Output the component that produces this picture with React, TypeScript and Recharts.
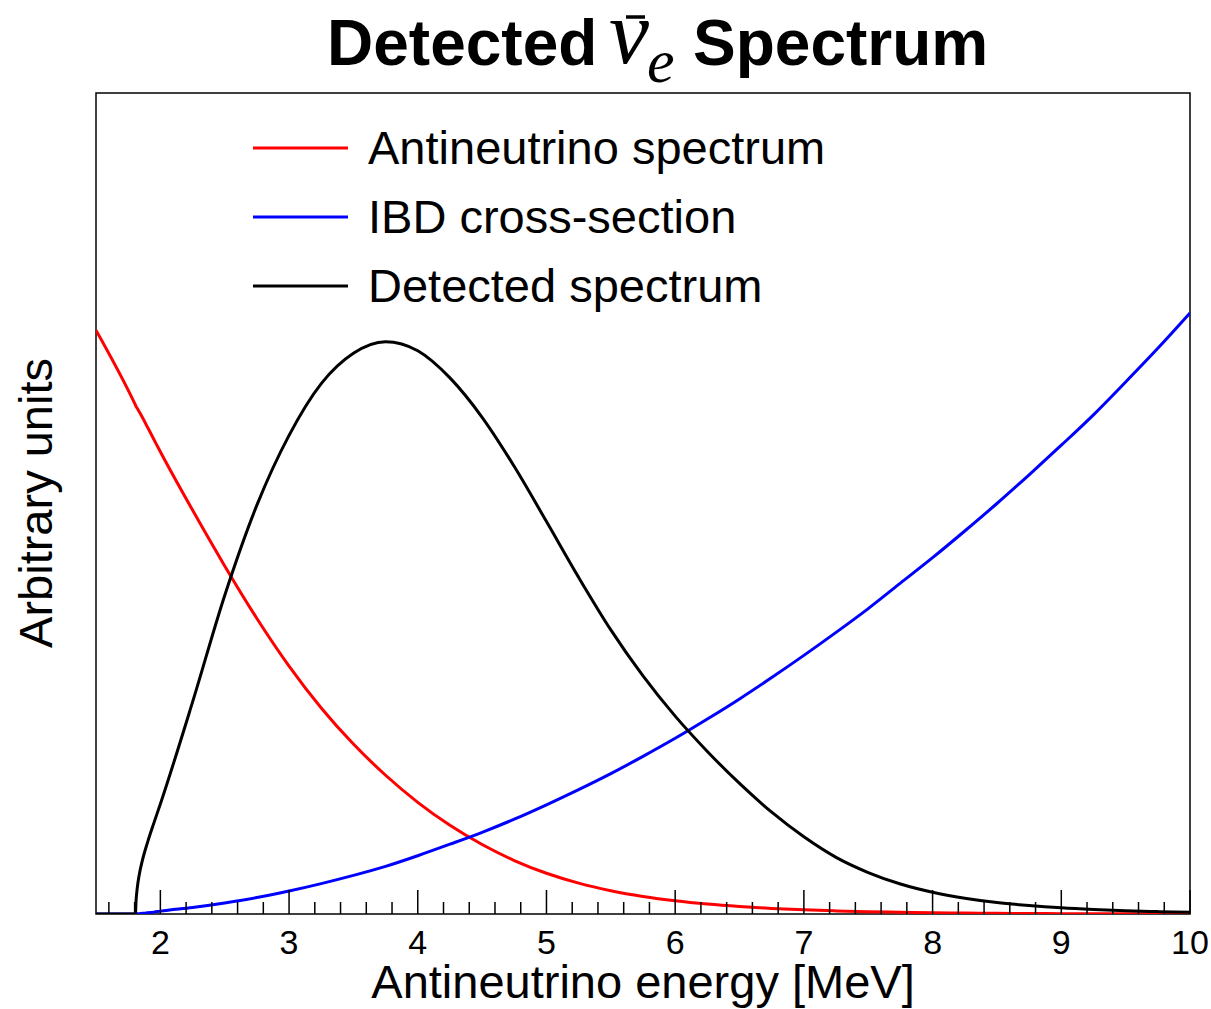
import React from 'react';
import { LineChart, Line, XAxis, YAxis, ReferenceArea } from 'recharts';

// energies in MeV, values in arbitrary units
const energies = [
  1.5, 1.806, 1.812, 1.82, 1.835, 1.86, 1.9, 1.95, 2.0, 2.25, 2.5, 2.75, 3.0, 3.25, 3.5,
  3.75, 4.0, 4.25, 4.5, 4.75, 5.0, 5.25, 5.5, 5.75, 6.0, 6.25, 6.5, 6.75, 7.0, 7.25, 7.5,
  7.75, 8.0, 8.25, 8.5, 8.75, 9.0, 9.25, 9.5, 9.75, 10.0,
];

const antineutrinoSpectrum = [
  0.711, 0.62, 0.618, 0.616, 0.612, 0.605, 0.593, 0.578, 0.563, 0.492, 0.424, 0.36, 0.302,
  0.251, 0.207, 0.169, 0.136, 0.108, 0.0846, 0.0651, 0.0496, 0.0376, 0.0284, 0.0214,
  0.0161, 0.0121, 0.0091, 0.0068, 0.0051, 0.0038, 0.0028, 0.0021, 0.0015, 0.0011, 0.0008,
  0.0006, 0.0004, 0.0003, 0.0002, 0.00015, 0.0001,
];

const ibdCrossSection = [
  0, 0, 0.0001, 0.0002, 0.0004, 0.0008, 0.0014, 0.0023, 0.0035, 0.008, 0.0135, 0.02, 0.028,
  0.037, 0.047, 0.058, 0.071, 0.085, 0.0995, 0.1155, 0.133, 0.1515, 0.171, 0.192, 0.214,
  0.2375, 0.262, 0.288, 0.315, 0.343, 0.372, 0.403, 0.434, 0.4665, 0.5, 0.535, 0.571, 0.608,
  0.648, 0.689, 0.732,
];

const detectedSpectrum = [
  0, 0, 0.018, 0.031, 0.047, 0.065, 0.087, 0.111, 0.134, 0.258, 0.388, 0.498, 0.583, 0.646,
  0.683, 0.697, 0.686, 0.653, 0.605, 0.545, 0.478, 0.41, 0.346, 0.29, 0.241, 0.198, 0.159,
  0.124, 0.094, 0.069, 0.0505, 0.0365, 0.0265, 0.0193, 0.014, 0.0103, 0.0075, 0.0055, 0.004,
  0.0029, 0.002,
];

const majorTicks = [2, 3, 4, 5, 6, 7, 8, 9, 10];
const minorTicks: number[] = [];
for (let i = 16; i < 100; i += 2) {
  if (i % 10 !== 0) minorTicks.push(i / 10);
}

const series = [
  { key: 'flux', name: 'Antineutrino spectrum', color: '#ff0000' },
  { key: 'xsec', name: 'IBD cross-section', color: '#0000ff' },
  { key: 'detected', name: 'Detected spectrum', color: '#000000' },
];

const rows = energies.map((e, i) => ({
  energy: e,
  flux: antineutrinoSpectrum[i],
  xsec: ibdCrossSection[i],
  detected: detectedSpectrum[i],
}));

const SANS = '"Liberation Sans", Arial, Helvetica, sans-serif';
const SERIF = '"Liberation Serif", "Times New Roman", serif';

const EnergyTick = (props: any) => {
  const { x, y, payload } = props;
  const major = majorTicks.includes(payload.value);
  return (
    <g>
      <line x1={x} x2={x} y1={y} y2={y - (major ? 24 : 12)} stroke="#000" strokeWidth={1.5} />
      {major && (
        <text x={x} y={y + 40} textAnchor="middle" fontSize={34} fontFamily={SANS} fill="#000">
          {payload.value}
        </text>
      )}
    </g>
  );
};

const App = () => {
  return (
    <div style={{ position: 'absolute', left: 0, top: 0, width: 1211, height: 1009, background: '#fff' }}>
      <LineChart
        width={1211}
        height={1009}
        data={rows}
        margin={{ top: 93, right: 21, bottom: 0, left: 96 }}
      >
        <XAxis
          dataKey="energy"
          type="number"
          domain={[1.5, 10]}
          ticks={[...minorTicks, ...majorTicks].sort((a, b) => a - b)}
          interval={0}
          height={95}
          tickSize={0}
          tickMargin={0}
          axisLine={false}
          tickLine={false}
          tick={<EnergyTick />}
          allowDataOverflow
        />
        <YAxis type="number" domain={[0, 1]} hide width={0} allowDataOverflow />
        {series.map((s) => (
          <Line
            key={s.key}
            type="monotone"
            dataKey={s.key}
            name={s.name}
            stroke={s.color}
            strokeWidth={3}
            dot={false}
            isAnimationActive={false}
          />
        ))}
        <ReferenceArea x1={1.5} x2={10} y1={0} y2={1} fill="none" stroke="#000" strokeWidth={1.5} />
      </LineChart>

      <svg
        width={1211}
        height={1009}
        style={{ position: 'absolute', left: 0, top: 0, pointerEvents: 'none' }}
      >
        {/* title */}
        <text x={327} y={65} fontSize={64} fontWeight="bold" fontFamily={SANS} fill="#000">
          Detected
        </text>
        <text x={609} y={63} fontSize={90} fontStyle="italic" fontFamily={SERIF} fill="#000">
          {'\u03bd'}
        </text>
        <line x1={626} x2={645} y1={17} y2={17} stroke="#000" strokeWidth={3.5} />
        <text x={647} y={82} fontSize={62} fontStyle="italic" fontFamily={SERIF} fill="#000">
          e
        </text>
        <text x={693} y={65} fontSize={64} fontWeight="bold" fontFamily={SANS} fill="#000">
          Spectrum
        </text>

        {/* legend */}
        {series.map((s, i) => (
          <g key={s.key}>
            <line x1={253} x2={348} y1={148 + i * 69} y2={148 + i * 69} stroke={s.color} strokeWidth={3} />
            <text x={368} y={164 + i * 69} fontSize={47} fontFamily={SANS} fill="#000">
              {s.name}
            </text>
          </g>
        ))}

        {/* axis titles */}
        <text x={643} y={998} textAnchor="middle" fontSize={47} fontFamily={SANS} fill="#000">
          Antineutrino energy [MeV]
        </text>
        <text
          x={0}
          y={0}
          transform="translate(52 503) rotate(-90)"
          textAnchor="middle"
          fontSize={47}
          fontFamily={SANS}
          fill="#000"
        >
          Arbitrary units
        </text>
      </svg>
    </div>
  );
};

export default App;
